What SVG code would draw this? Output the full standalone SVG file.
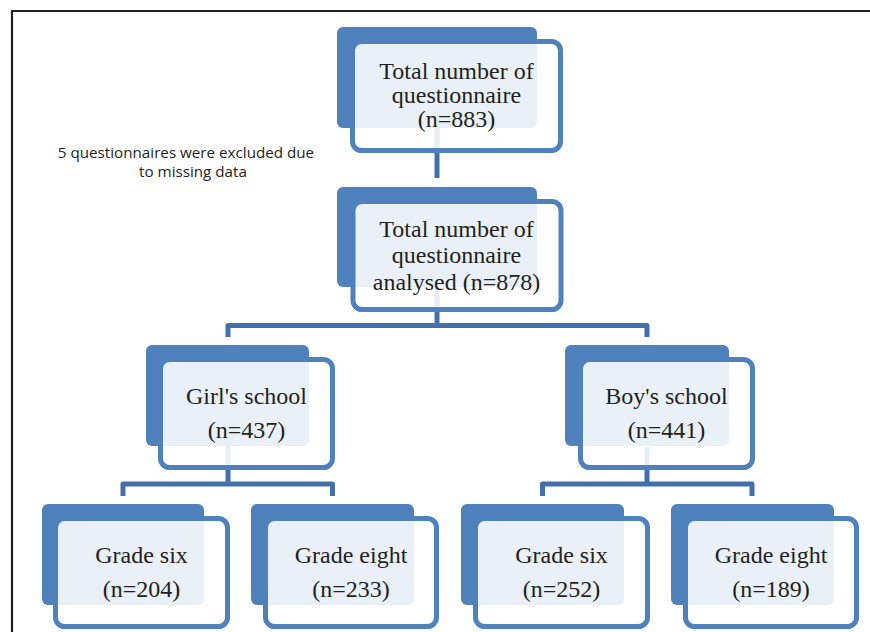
<svg xmlns="http://www.w3.org/2000/svg" width="870" height="632" viewBox="0 0 870 632">
<style>
.back{fill:#4f81bd}
.front{fill:#ffffff;fill-opacity:0.88;stroke:#4f81bd;stroke-width:5}
.conn{fill:none;stroke:#4270aa;stroke-width:5;stroke-linejoin:round}
.t{font-family:"Liberation Serif","Times New Roman",serif;font-size:24px;fill:#231f20;text-anchor:middle}
.note{font-family:"Open Sans","Noto Sans",sans-serif;font-size:15.2px;fill:#231f20;text-anchor:middle}
</style>
<rect width="870" height="632" fill="#ffffff"/>
<path d="M12,632 V11 H870" fill="none" stroke="#231f20" stroke-width="2.2"/>
<g id="connectors">
<path class="conn" d="M437,128 V178"/>
<path class="conn" d="M437,287 V325.5"/>
<path class="conn" d="M228,337 V325.5 H647 V337"/>
<path class="conn" d="M228,446 V484"/>
<path class="conn" d="M123,496 V484 H332.5 V496"/>
<path class="conn" d="M647,447 V484"/>
<path class="conn" d="M542.5,496 V484 H752 V496"/>
</g>
<g id="note">
<text class="note" x="186" y="158">5 questionnaires were excluded due</text>
<text class="note" x="193" y="177">to missing data</text>
</g>
<g id="n-total">
<rect class="back" x="337" y="27" width="200" height="101" rx="6"/>
<rect class="front" x="352.5" y="41.5" width="208" height="109" rx="9"/>
<text class="t" x="456.5" y="79">Total number of</text>
<text class="t" x="456.5" y="103">questionnaire</text>
<text class="t" x="456.5" y="127">(n=883)</text>
</g>
<g id="n-analysed">
<rect class="back" x="337" y="187" width="200" height="100" rx="6"/>
<rect class="front" x="353" y="201.5" width="208" height="108" rx="9"/>
<text class="t" x="456.5" y="237">Total number of</text>
<text class="t" x="456.5" y="263">questionnaire</text>
<text class="t" x="456.5" y="290">analysed (n=878)</text>
</g>
<g id="n-girls">
<rect class="back" x="146" y="345" width="163" height="101" rx="6"/>
<rect class="front" x="160.5" y="359.5" width="172" height="108" rx="9"/>
<text class="t" x="246.5" y="404">Girl's school</text>
<text class="t" x="246.5" y="438">(n=437)</text>
</g>
<g id="n-boys">
<rect class="back" x="565" y="345" width="164" height="101" rx="6"/>
<rect class="front" x="580.5" y="359.5" width="172" height="108" rx="9"/>
<text class="t" x="666.5" y="404">Boy's school</text>
<text class="t" x="666.5" y="438">(n=441)</text>
</g>
<g id="n-girls-six">
<rect class="back" x="42" y="504" width="162" height="101" rx="6"/>
<rect class="front" x="55.5" y="518.5" width="172" height="108" rx="9"/>
<text class="t" x="141.5" y="563">Grade six</text>
<text class="t" x="141.5" y="597">(n=204)</text>
</g>
<g id="n-girls-eight">
<rect class="back" x="251" y="504" width="163" height="101" rx="6"/>
<rect class="front" x="265.5" y="518.5" width="171" height="108" rx="9"/>
<text class="t" x="351" y="563">Grade eight</text>
<text class="t" x="351" y="597">(n=233)</text>
</g>
<g id="n-boys-six">
<rect class="back" x="461" y="504" width="163" height="101" rx="6"/>
<rect class="front" x="475.5" y="518.5" width="172" height="108" rx="9"/>
<text class="t" x="561.5" y="563">Grade six</text>
<text class="t" x="561.5" y="597">(n=252)</text>
</g>
<g id="n-boys-eight">
<rect class="back" x="671" y="504" width="163" height="101" rx="6"/>
<rect class="front" x="685.5" y="518.5" width="171" height="108" rx="9"/>
<text class="t" x="771" y="563">Grade eight</text>
<text class="t" x="771" y="597">(n=189)</text>
</g>
</svg>
